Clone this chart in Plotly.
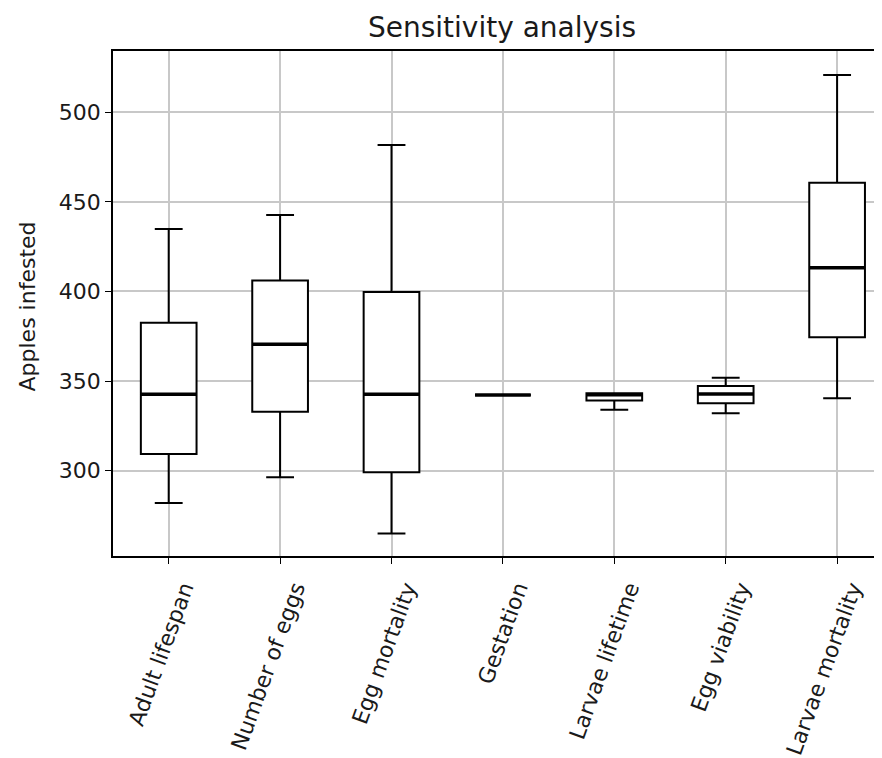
import plotly.graph_objects as go

categories = ["Adult lifespan", "Number of eggs", "Egg mortality", "Gestation",
              "Larvae lifetime", "Egg viability", "Larvae mortality"]
positions = [1, 2, 3, 4, 5, 6, 7]
lower_whisker = [282.0, 296.3, 265.0, 342.2, 334.0, 332.0, 340.4]
q1_values = [309.3, 332.9, 299.1, 342.2, 339.2, 337.6, 374.4]
median_values = [342.6, 370.5, 342.6, 342.2, 342.4, 342.8, 413.3]
q3_values = [382.6, 406.2, 399.7, 342.2, 343.2, 347.3, 460.7]
upper_whisker = [434.9, 442.7, 481.8, 342.2, 343.2, 351.9, 520.8]
y_ticks = [300, 350, 400, 450, 500]

BOX_W = 0.5

fig = go.Figure()
fig.add_trace(go.Box(
    x=positions,
    q1=q1_values, median=median_values, q3=q3_values,
    lowerfence=lower_whisker, upperfence=upper_whisker,
    width=BOX_W, whiskerwidth=0.5,
    line=dict(color="black", width=2),
    fillcolor="white",
    boxpoints=False,
    hoverinfo="skip",
    showlegend=False,
))

# thicker median lines (matplotlib style)
mx, my = [], []
for p, m in zip(positions, median_values):
    mx += [p - BOX_W / 2, p + BOX_W / 2, None]
    my += [m, m, None]
fig.add_trace(go.Scatter(x=mx, y=my, mode="lines",
                         line=dict(color="black", width=3.5),
                         hoverinfo="skip", showlegend=False))

# page has an 8px body margin: figure occupies screen 8..882 x 8..758
W, H = 874, 750
L, T, B = 105, 43, 202
plot_w = W - L
unit_px = 111.4
x_max = 0.5 + plot_w / unit_px

fig.update_layout(
    width=W, height=H,
    margin=dict(l=L, r=0, t=T, b=B, autoexpand=False),
    paper_bgcolor="white", plot_bgcolor="white",
    font=dict(family="DejaVu Sans", color="#1a1a1a", size=22),
    title=dict(text="Sensitivity analysis", x=(494 - L) / plot_w, xref="paper",
               xanchor="center", y=1 - 19 / H, yanchor="middle", yref="container",
               font=dict(size=28, color="#1a1a1a")),
    xaxis=dict(
        range=[0.5, x_max], automargin=False,
        tickmode="array", tickvals=positions, ticktext=categories,
        tickangle=-70, ticklabelshift=15, ticklabelstandoff=3,
        ticks="outside", ticklen=6, tickwidth=1.3, tickcolor="black",
        showgrid=True, gridcolor="#c8c8c8", gridwidth=1.5,
        showline=True, linecolor="black", linewidth=1.5, mirror=True,
        zeroline=False,
        tickfont=dict(size=22, color="#1a1a1a"),
    ),
    yaxis=dict(
        range=[252.4, 534.2], automargin=False,
        tickmode="array", tickvals=y_ticks,
        ticks="outside", ticklen=6, tickwidth=1.3, tickcolor="black",
        showgrid=True, gridcolor="#c8c8c8", gridwidth=1.5,
        showline=True, linecolor="black", linewidth=1.5, mirror=False,
        zeroline=False,
        tickfont=dict(size=22, color="#1a1a1a"),
    ),
    annotations=[dict(text="Apples infested", xref="paper", yref="paper",
                      x=0, y=0.5, xanchor="center", yanchor="middle",
                      xshift=-(L - 19), yshift=-3, textangle=-90, showarrow=False,
                      font=dict(size=22, color="#1a1a1a"))],
)

fig.write_html("out.html")
